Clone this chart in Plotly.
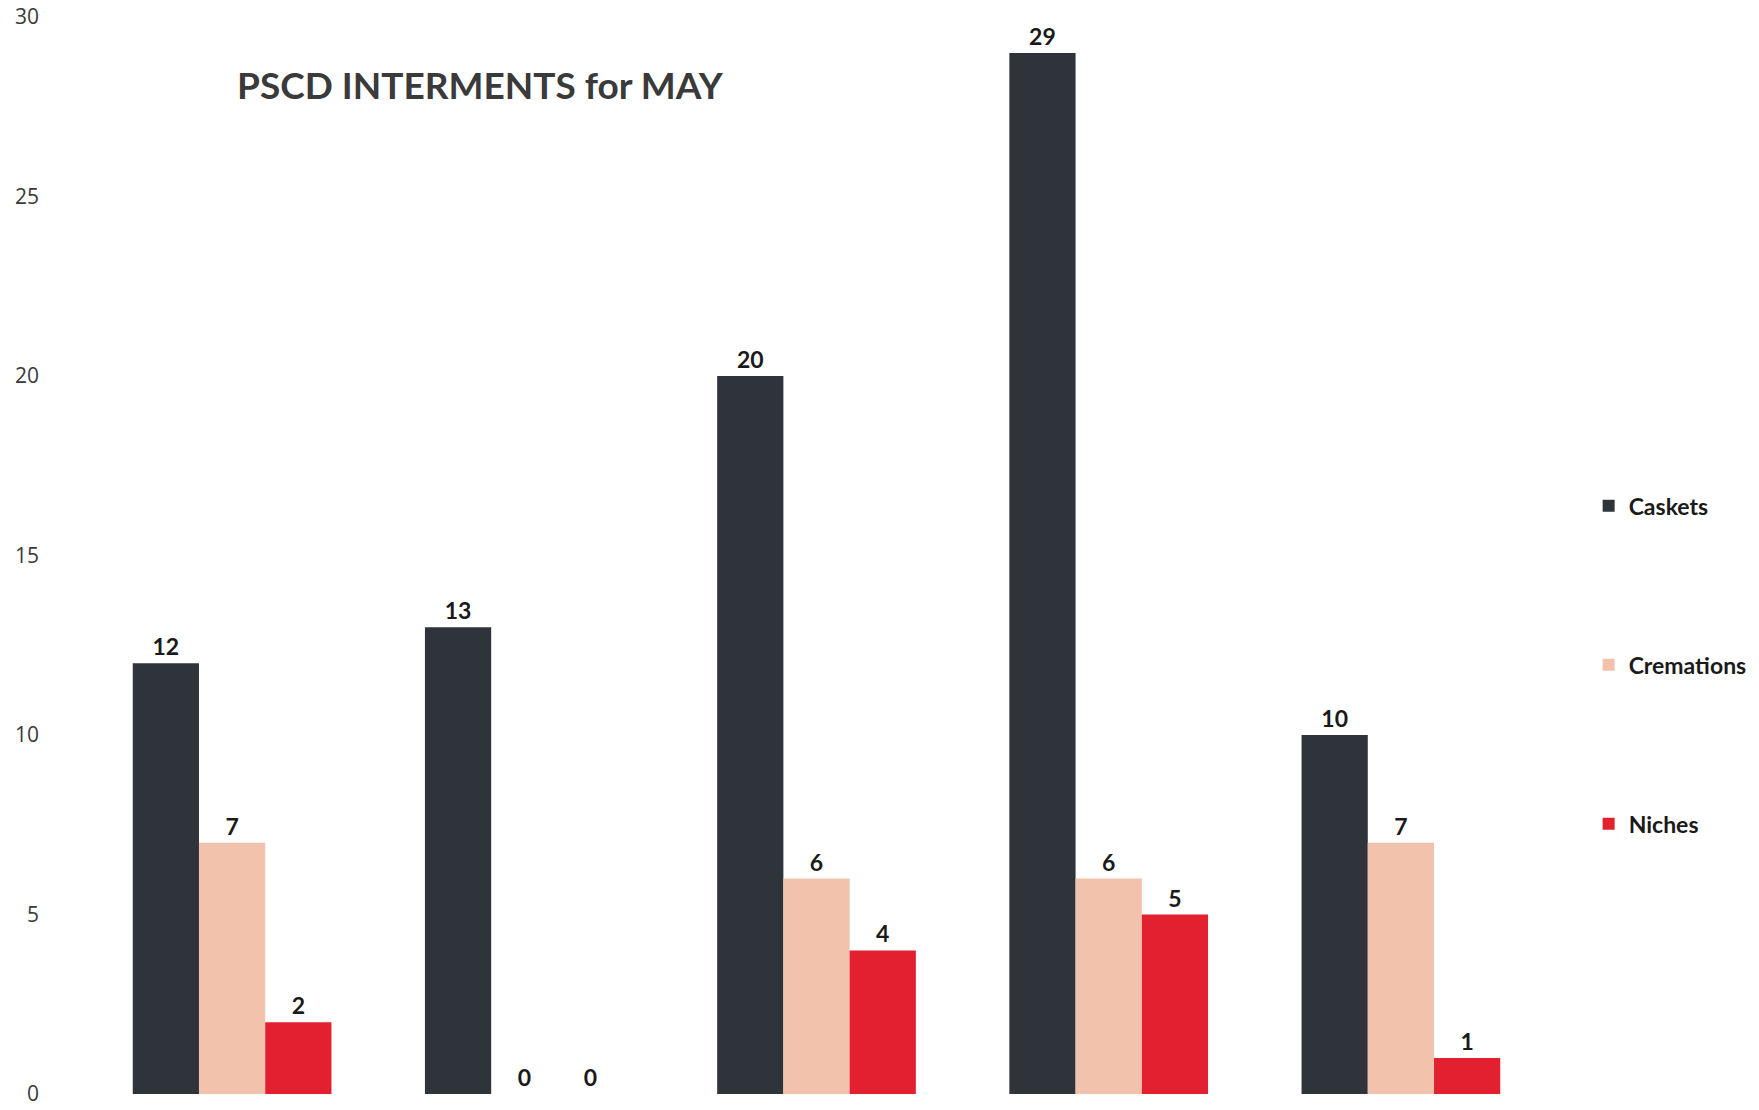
import plotly.graph_objects as go

# Interments for May, by location group (five groups, unnamed on the chart)
groups = ["A", "B", "C", "D", "E"]
caskets = [12, 13, 20, 29, 10]
cremations = [7, 0, 6, 6, 7]
niches = [2, 0, 4, 5, 1]

series = [
    ("Caskets", caskets, "#2f343b"),
    ("Cremations", cremations, "#f3c2ad"),
    ("Niches", niches, "#e2202f"),
]

fig = go.Figure()
for i, (name, vals, color) in enumerate(series):
    fig.add_trace(go.Bar(
        x=groups,
        y=vals,
        name=name,
        legendgroup=name,
        marker=dict(color=color, line=dict(width=0)),
        text=[str(v) for v in vals],
        textposition="outside",
        cliponaxis=False,
        textfont=dict(family="Lato", size=23, color="#1a1a1a", weight="bold"),
    ))

fig.update_layout(
    width=1759,
    height=1110,
    barmode="group",
    bargap=0.32,
    bargroupgap=0.0,
    plot_bgcolor="white",
    paper_bgcolor="white",
    margin=dict(l=86, r=212, t=17, b=16, autoexpand=False),
    showlegend=True,
    legend=dict(
        x=1.0285, xanchor="left",
        y=0.566, yanchor="top",
        tracegroupgap=126,
        font=dict(family="Lato", size=23, color="#1a1a1a", weight="bold"),
        itemwidth=30,
    ),
    annotations=[dict(
        text="<b>PSCD INTERMENTS for MAY</b>",
        xref="paper", yref="paper",
        x=0.102, y=0.937, xanchor="left", yanchor="middle",
        showarrow=False,
        font=dict(family="Lato", size=37, color="#3a3a3a"),
    )],
)

fig.update_xaxes(showticklabels=False, showline=False, showgrid=False,
                 zeroline=False, range=[-0.5, 4.5])
fig.update_yaxes(range=[0, 30], dtick=5, showgrid=False, showline=False,
                 zeroline=False, ticks="",
                 tickfont=dict(family="Open Sans", size=21, color="#3a3a3a"),
                 ticklabelstandoff=46)

fig.write_html("out.html")
